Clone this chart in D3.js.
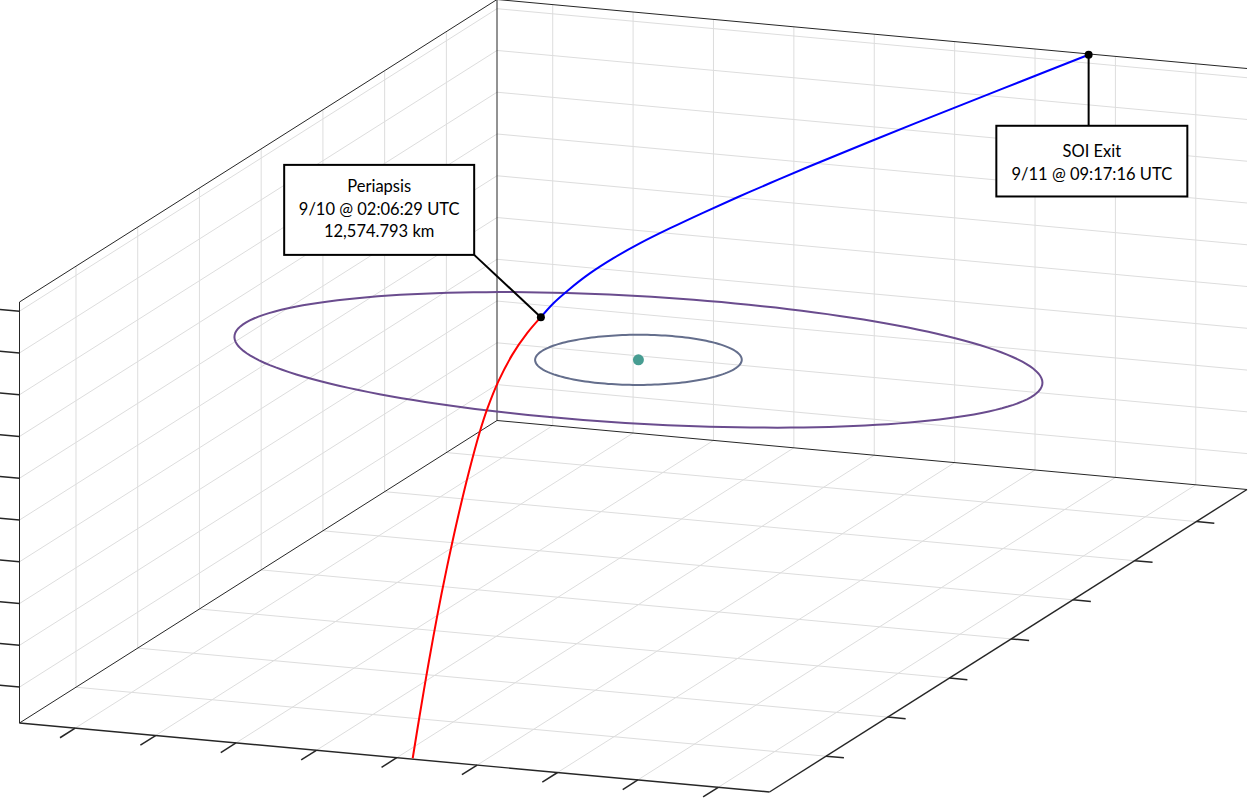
<!DOCTYPE html>
<html>
<head>
<meta charset="utf-8">
<script src="https://cdn.jsdelivr.net/npm/d3@7"></script>
<style>
	html, body { margin: 0; padding: 0; background: #ffffff; }
	svg { display: block; }
	.callout text { font-family: Lato, 'Open Sans', sans-serif; font-size: 16.5px; fill: #000000; }
</style>
</head>
<body>
<div id="chart"></div>
<script>
'use strict';

// axis limits and ticks, km (Kerbin-centred frame)
var xLimits = [-46930, 46370];
var yLimits = [-78300, 76400];
var zLimits = [-29300, 21100];
var xTicks = [-40000, -30000, -20000, -10000, 0, 10000, 20000, 30000, 40000];
var yTicks = [-60000, -40000, -20000, 0, 20000, 40000, 60000];
var zTicks = [-25000, -20000, -15000, -10000, -5000, 0, 5000, 10000, 15000, 20000];

// moon orbits: radius (km), inclination and ascending node (deg)
var orbitNames = ['Mun', 'Minmus'];
var orbitRadii = [12000, 47000];
var orbitIncl = [0, -6];
var orbitNode = [0, -13];
var orbitColors = ['#646e8c', '#6a4c8e'];

var planetPos = [0, 0, 0];

// inbound leg, SOI entry -> periapsis (x, y, z km)
var inboundPath = [
	[1930, -78160, -29230],
	[20, -71000, -26100],
	[-1790, -64090, -23080],
	[-3560, -57170, -20070],
	[-5430, -49620, -16810],
	[-7080, -42630, -13800],
	[-8670, -35600, -10800],
	[-10180, -28520, -7800],
	[-11580, -21370, -4810],
	[-12310, -16830, -2940],
	[-12880, -11870, -970],
	[-13130, -6700, 1000],
	[-12970, -2280, 2580],
	[-12570, 1130, 3730]
];

// outbound leg, periapsis -> SOI exit
var outboundPath = [
	[-12570, 1130, 3730],
	[-12170, 4160, 4730],
	[-11470, 7210, 5670],
	[-10310, 11210, 6840],
	[-8880, 15040, 7870],
	[-7100, 19060, 8880],
	[-4990, 23280, 9870],
	[-2580, 27800, 10900],
	[-120, 32220, 11880],
	[2360, 36560, 12820],
	[5230, 41490, 13870],
	[10150, 49640, 15570],
	[16590, 60100, 17720],
	[21670, 68260, 19380],
	[26700, 76320, 21020]
];

var periapsisLabel = ['Periapsis', '9/10 @ 02:06:29 UTC', '12,574.793 km'];
var soiExitLabel = ['SOI Exit', '9/11 @ 09:17:16 UTC'];

var WIDTH = 1254;
var HEIGHT = 799;
// screen vectors of the box (orthographic view)
var ORIGIN = [19.5, 723];
var X_DIR = [750, 69];
var Y_DIR = [477.5, -302.5];
var Z_DIR = [0, -421];
var GRID = '#dddddd';
var AXIS = '#262626';

var xScale = d3.scaleLinear().domain(xLimits).range([0, 1]);
var yScale = d3.scaleLinear().domain(yLimits).range([0, 1]);
var zScale = d3.scaleLinear().domain(zLimits).range([0, 1]);

function project(p) {
	var u = xScale(p[0]), v = yScale(p[1]), w = zScale(p[2]);
	return [
		ORIGIN[0] + u*X_DIR[0] + v*Y_DIR[0] + w*Z_DIR[0],
		ORIGIN[1] + u*X_DIR[1] + v*Y_DIR[1] + w*Z_DIR[1]
	];
}

var svg = d3.select('#chart').append('svg')
	.attr('width', WIDTH)
	.attr('height', HEIGHT);

svg.append('rect').attr('width', WIDTH).attr('height', HEIGHT).attr('fill', '#ffffff');

function segment(g, a, b, color, width) {
	var pa = project(a), pb = project(b);
	g.append('line')
		.attr('x1', pa[0]).attr('y1', pa[1])
		.attr('x2', pb[0]).attr('y2', pb[1])
		.attr('stroke', color)
		.attr('stroke-width', width);
}

var x0 = xLimits[0], x1 = xLimits[1];
var y0 = yLimits[0], y1 = yLimits[1];
var z0 = zLimits[0], z1 = zLimits[1];

// grid on the three back planes
var grid = svg.append('g');
xTicks.forEach(function(x) {
	segment(grid, [x, y1, z0], [x, y1, z1], GRID, 1);
	segment(grid, [x, y0, z0], [x, y1, z0], GRID, 1);
});
yTicks.forEach(function(y) {
	segment(grid, [x0, y, z0], [x0, y, z1], GRID, 1);
	segment(grid, [x0, y, z0], [x1, y, z0], GRID, 1);
});
zTicks.forEach(function(z) {
	segment(grid, [x0, y1, z], [x1, y1, z], GRID, 1);
	segment(grid, [x0, y0, z], [x0, y1, z], GRID, 1);
});

// box outline
var box = svg.append('g');
[
	[[x0, y0, z0], [x0, y0, z1]],
	[[x0, y0, z1], [x0, y1, z1]],
	[[x0, y1, z0], [x0, y1, z1]],
	[[x0, y0, z0], [x0, y1, z0]],
	[[x0, y1, z1], [x1, y1, z1]],
	[[x0, y1, z0], [x1, y1, z0]]
].forEach(function(e) { segment(box, e[0], e[1], AXIS, 1); });
segment(box, [x0, y0, z0], [x1, y0, z0], AXIS, 1.4);
segment(box, [x1, y0, z0], [x1, y1, z0], AXIS, 1.4);

// tick marks
function unit(v) {
	var l = Math.sqrt(v[0]*v[0] + v[1]*v[1]);
	return [v[0]/l, v[1]/l];
}
function tick(p, dir, len) {
	var a = project(p);
	box.append('line')
		.attr('x1', a[0]).attr('y1', a[1])
		.attr('x2', a[0] + dir[0]*len).attr('y2', a[1] + dir[1]*len)
		.attr('stroke', AXIS)
		.attr('stroke-width', 1.5);
}
var ux = unit(X_DIR), uy = unit(Y_DIR);
xTicks.forEach(function(x) { tick([x, y0, z0], [-uy[0], -uy[1]], 18); });
yTicks.forEach(function(y) { tick([x1, y, z0], ux, 18); });
zTicks.forEach(function(z) { tick([x0, y0, z], [-ux[0], -ux[1]], 20); });

// moon orbits
var line = d3.line();
orbitNames.forEach(function(name, i) {
	var r = orbitRadii[i];
	var inc = orbitIncl[i]*Math.PI/180;
	var om = orbitNode[i]*Math.PI/180;
	var n = [Math.cos(om), Math.sin(om), 0];
	var m = [-Math.sin(om)*Math.cos(inc), Math.cos(om)*Math.cos(inc), Math.sin(inc)];
	var pts = d3.range(0, 360, 2).map(function(deg) {
		var t = deg*Math.PI/180, c = Math.cos(t), s = Math.sin(t);
		return project([
			planetPos[0] + r*(c*n[0] + s*m[0]),
			planetPos[1] + r*(c*n[1] + s*m[1]),
			planetPos[2] + r*(c*n[2] + s*m[2])
		]);
	});
	svg.append('path')
		.attr('class', 'orbit ' + name)
		.attr('d', line.curve(d3.curveLinearClosed)(pts))
		.attr('fill', 'none')
		.attr('stroke', orbitColors[i])
		.attr('stroke-width', 2);
});

var planet = project(planetPos);
svg.append('circle')
	.attr('cx', planet[0]).attr('cy', planet[1])
	.attr('r', 5.5)
	.attr('fill', '#479d92');

// trajectory
var pathLine = d3.line().curve(d3.curveCatmullRom.alpha(0.5));
svg.append('path')
	.attr('d', pathLine(inboundPath.map(project)))
	.attr('fill', 'none')
	.attr('stroke', '#ff0000')
	.attr('stroke-width', 2);
svg.append('path')
	.attr('d', pathLine(outboundPath.map(project)))
	.attr('fill', 'none')
	.attr('stroke', '#0000ff')
	.attr('stroke-width', 2);

// callouts
function callout(anchor, lines, bx, by, bw, bh, leaderEnd, baselines) {
	var a = project(anchor);
	var g = svg.append('g').attr('class', 'callout');
	g.append('line')
		.attr('x1', a[0]).attr('y1', a[1])
		.attr('x2', a[0] + leaderEnd[0]).attr('y2', a[1] + leaderEnd[1])
		.attr('stroke', '#000000')
		.attr('stroke-width', 2);
	g.append('rect')
		.attr('x', a[0] + bx).attr('y', a[1] + by)
		.attr('width', bw).attr('height', bh)
		.attr('fill', '#ffffff')
		.attr('stroke', '#000000')
		.attr('stroke-width', 2);
	g.selectAll('text').data(lines).enter().append('text')
		.attr('x', a[0] + bx + bw/2)
		.attr('y', function(d, i) { return a[1] + baselines[i]; })
		.attr('text-anchor', 'middle')
		.text(function(d) { return d; });
	g.append('circle')
		.attr('cx', a[0]).attr('cy', a[1])
		.attr('r', 4)
		.attr('fill', '#000000');
}

var periapsis = inboundPath[inboundPath.length - 1];
var soiExit = outboundPath[outboundPath.length - 1];
callout(periapsis, periapsisLabel, -256.7, -152.3, 190, 90, [-66.7, -62.3], [-125.6, -102.3, -80]);
callout(soiExit, soiExitLabel, -92.3, 71, 191, 70.7, [0, 71], [102.3, 125]);
</script>
</body>
</html>
